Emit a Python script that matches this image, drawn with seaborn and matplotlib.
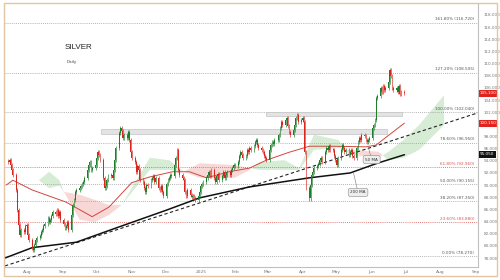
import numpy as np
import pandas as pd
import matplotlib
matplotlib.use("Agg")
import matplotlib.pyplot as plt
import matplotlib.dates as mdates
import matplotlib.transforms as mtrans
from matplotlib.patches import Rectangle
import seaborn as sns

# ---------------- data ----------------
start_day = "2024-07-15"
first_open = 94.0
closes = [
    93.8, 94.1, 93.3, 92.5, 91.7,
    89.2, 85.9, 83.4, 81.8, 82.6,
    82.3, 83.3, 83.4, 81.8, 81.0,
    79.7, 79.3, 80.1, 81.0, 81.3,
    81.6, 82.3, 82.6, 83.3, 83.6,
    84.6, 83.9, 84.3, 84.9, 85.6,
    85.2, 85.9, 84.9, 85.6, 84.3,
    83.6, 83.0, 83.3, 83.9, 82.6,
    85.1, 86.7, 87.6, 88.9, 89.2,
    89.5, 89.9, 90.2, 90.5, 91.2,
    92.5, 93.3, 93.8, 92.5, 92.8,
    93.3, 94.5, 95.5, 94.9, 94.1,
    91.2, 89.5, 89.9, 90.8, 91.5,
    91.7, 91.2, 92.5, 94.1, 96.1,
    98.6, 99.4, 98.9, 97.8, 98.3,
    97.8, 98.7, 97.4, 95.4, 94.5,
    93.8, 92.2, 93.1, 92.5, 90.8,
    90.5, 89.5, 88.9, 90.0, 89.9,
    90.8, 91.2, 91.5, 90.5, 91.2,
    89.5, 89.2, 89.9, 88.9, 88.2,
    90.2, 90.8, 91.2, 91.7, 91.5,
    93.3, 94.5, 95.8, 92.5, 91.7,
    91.2, 90.8, 88.9, 88.2, 89.2,
    88.4, 88.0, 88.2, 87.9, 87.6,
    88.2, 88.9, 89.9, 90.2, 90.5,
    91.2, 91.7, 92.2, 91.5, 92.5,
    91.2, 90.5, 91.5, 91.8, 90.8,
    91.5, 92.2, 91.2, 91.7, 92.2,
    91.7, 92.5, 92.8, 93.3, 93.1,
    93.8, 94.8, 95.5, 94.9, 94.5,
    94.8, 95.8, 95.5, 96.1, 95.8,
    96.4, 97.1, 97.4, 96.6, 96.1,
    95.8, 95.5, 94.8, 94.5, 94.1,
    95.8, 96.6, 97.1, 96.8, 97.4,
    97.4, 98.3, 99.4, 100.4, 99.9,
    100.7, 101.0, 99.7, 98.7, 98.3,
    99.1, 99.9, 101.0, 101.6, 100.4,
    100.7, 101.0, 100.4, 95.5, 89.5,
    87.8, 90.0, 91.7, 92.2, 92.8,
    93.1, 93.5, 94.1, 94.5, 93.8,
    95.5, 96.1, 95.8, 96.4, 95.8,
    95.8, 94.8, 94.1, 93.3, 94.5,
    95.8, 96.6, 96.1, 95.5, 95.8,
    94.9, 95.5, 95.8, 94.8, 94.5,
    96.1, 97.1, 97.8, 97.4, 98.3,
    98.1, 97.4, 97.1, 97.4, 97.8,
    99.4, 99.9, 100.7, 104.3, 104.7,
    106.0, 105.3, 106.3, 105.7, 106.0,
    107.0, 109.0, 108.0, 106.0, 105.7,
    106.0, 105.3, 106.3, 105.0, 105.3,
    105.2,
]

ma50_dates = ["2024-07-13", "2024-07-19", "2024-08-05", "2024-09-04", "2024-09-27",
              "2024-10-12", "2024-11-01", "2024-11-16", "2024-12-07", "2024-12-22",
              "2025-01-06", "2025-01-26", "2025-02-13", "2025-02-28", "2025-03-20",
              "2025-04-07", "2025-04-27", "2025-05-27", "2025-06-05", "2025-06-16",
              "2025-06-30"]
ma50_vals = [90.0, 90.8, 89.2, 87.2, 84.8, 86.4, 90.4, 91.3, 92.2, 92.2,
             91.2, 92.2, 92.8, 94.1, 95.4, 96.4, 96.4, 96.3, 96.6, 98.2, 100.2]

ma200_dates = ["2024-07-12", "2024-08-05", "2024-09-13", "2024-10-19", "2024-12-02",
               "2024-12-31", "2025-02-13", "2025-04-07", "2025-05-13", "2025-06-06",
               "2025-06-30"]
ma200_vals = [78.0, 79.7, 80.6, 83.0, 85.9, 87.9, 89.7, 91.2, 92.0, 93.6, 95.0]

cloud_dates = ["2024-08-11", "2024-08-20", "2024-08-29", "2024-09-02", "2024-09-16",
               "2024-09-29", "2024-10-12", "2024-10-23", "2024-11-17", "2024-12-04",
               "2024-12-17", "2024-12-31", "2025-01-31", "2025-02-13", "2025-02-22",
               "2025-03-16", "2025-03-29", "2025-04-11", "2025-05-03", "2025-05-12",
               "2025-06-07", "2025-06-16", "2025-06-29", "2025-07-13", "2025-08-04"]
span_a = [90.8, 92.2, 90.8, 88.9, 84.3, 83.9, 85.1, 86.7, 94.5, 94.1, 92.2, 91.2, 91.2,
          92.5, 93.8, 94.1, 92.8, 98.3, 97.4, 95.0, 94.5, 95.5, 97.4, 99.9, 104.8]
span_b = [90.8, 89.5, 89.9, 88.9, 88.4, 87.6, 86.7, 86.7, 92.5, 92.5, 92.2, 93.6, 93.3,
          92.8, 92.5, 92.5, 92.5, 95.8, 96.1, 95.8, 95.5, 94.1, 94.5, 95.8, 99.9]

trend_dates = ["2024-07-12", "2025-09-03"]
trend_vals = [76.7, 101.9]

fib_vals = [116.73, 108.51, 102.04, 96.95, 92.96, 90.155, 87.35, 83.88, 78.27]
fib_labels = ["161.80% (116.720)", "127.20% (108.505)", "100.00% (102.040)",
              "78.60% (96.950)", "61.80% (92.960)", "50.00% (90.155)",
              "38.20% (87.350)", "23.60% (83.880)", "0.00% (78.270)"]
fib_red = [False, False, False, False, True, False, False, True, False]

zones = [("2024-10-05", "2025-06-15", 98.4, 99.2),
         ("2025-02-28", "2025-06-28", 101.4, 102.0)]

price_tags = [(105.10, "105.100", "#e0231c"), (100.15, "100.150", "#e0231c"),
              (95.05, "95.050", "#111111")]

month_ticks = pd.date_range("2024-08-01", "2025-09-01", freq="MS")
month_labels = ["Aug", "Sep", "Oct", "Nov", "Dec", "2025", "Feb", "Mar", "Apr",
                "May", "Jun", "Jul", "Aug", "Sep"]
y_ticks = np.arange(78, 119, 2)

# ---------------- figure ----------------
sns.set_theme(style="white")
plt.rcParams["font.family"] = ["DejaVu Sans"]

fig = plt.figure(figsize=(5, 2.8), dpi=100)
ax = fig.add_axes([5 / 500, 13 / 280, 473 / 500, 263 / 280])

dates = pd.bdate_range(start_day, periods=len(closes))
xd = mdates.date2num(dates)
c = np.array(closes)
o = np.concatenate([[first_open], c[:-1]])
wick = 0.35
hi = np.maximum(o, c) + wick
lo = np.minimum(o, c) - wick
up = c >= o
green, red = "#1c7f2a", "#d8261f"
cols = np.where(up, green, red)

# ichimoku cloud
cx = mdates.date2num(pd.to_datetime(cloud_dates))
sa, sb = np.array(span_a), np.array(span_b)
ax.fill_between(cx, sa, sb, where=sa >= sb, interpolate=True, color="#d7ecd5",
                lw=0, zorder=1)
ax.fill_between(cx, sa, sb, where=sa < sb, interpolate=True, color="#f8d8d6",
                lw=0, zorder=1)

# fib lines and labels
blend = mtrans.blended_transform_factory(ax.transAxes, ax.transData)
for v, lab, isred in zip(fib_vals, fib_labels, fib_red):
    col = "#d9534f" if isred else "#9a9a9a"
    ax.axhline(v, color=col, ls=(0, (1, 1.5)), lw=0.6, zorder=1)
    ax.annotate(lab, (0.992, v), xycoords=blend, xytext=(0, 1),
                textcoords="offset points", ha="right", va="bottom",
                fontsize=3.0, color="#d9534f" if isred else "#555555")

# resistance zones
for d0, d1, y0, y1 in zones:
    x0, x1 = mdates.date2num(pd.Timestamp(d0)), mdates.date2num(pd.Timestamp(d1))
    ax.add_patch(Rectangle((x0, y0), x1 - x0, y1 - y0, facecolor="#e3e3e3",
                           edgecolor="#c4c4c4", lw=0.5, zorder=2))

# trendline
sns.lineplot(x=pd.to_datetime(trend_dates), y=trend_vals, ax=ax, color="#222222",
             lw=0.8, zorder=3)
ax.lines[-1].set_dashes((3, 2.2))

# moving averages
sns.lineplot(x=pd.to_datetime(ma50_dates), y=ma50_vals, ax=ax, color="#d0473f",
             lw=0.7, zorder=3)
sns.lineplot(x=pd.to_datetime(ma200_dates), y=ma200_vals, ax=ax, color="#111111",
             lw=1.1, zorder=3)

# candles
ax.vlines(xd, lo, hi, colors=cols, lw=0.45, zorder=4)
body = np.maximum(np.abs(c - o), 0.08)
ax.bar(xd, body, bottom=np.minimum(o, c), width=0.75, color=cols, lw=0, zorder=5)

# MA callouts
def callout(txt, xy_date, y_line, y_box, x_box_date):
    xb = mdates.date2num(pd.Timestamp(x_box_date))
    xl = mdates.date2num(pd.Timestamp(xy_date))
    ax.plot([xl, xb], [y_line, y_box], color="#777777", lw=0.4, zorder=6)
    ax.text(xb, y_box, txt, fontsize=3.0, ha="center", va="center", color="#333333",
            zorder=7, bbox=dict(boxstyle="round,pad=0.5", fc="#eeeeee", ec="#888888",
                                lw=0.4))

callout("50 MA", "2025-05-29", 96.3, 94.2, "2025-06-01")
callout("200 MA", "2025-05-16", 92.0, 88.8, "2025-05-20")

# title
ax.text(0.127, 0.835, "SILVER", transform=ax.transAxes, fontsize=5.8,
        color="#222222", va="center",
        family=["Liberation Sans Narrow", "Liberation Sans", "DejaVu Sans"])
ax.text(0.131, 0.78, "Daily", transform=ax.transAxes, fontsize=3.0,
        color="#444444", va="center")

# axes
ax.set_xlim(mdates.date2num(pd.Timestamp("2024-07-12")),
            mdates.date2num(pd.Timestamp("2025-09-03")))
ax.set_ylim(76.52, 119.81)
ax.set_xticks(mdates.date2num(month_ticks))
ax.set_xticklabels(month_labels)
ax.set_yticks(y_ticks)
# tick labels hidden behind the price tags are left blank
tag_vals = [p[0] for p in price_tags]
ax.set_yticklabels(["" if min(abs(t - tv) for tv in tag_vals) < 0.6 else f"{t:.3f}"
                    for t in y_ticks])
ax.yaxis.tick_right()
ax.tick_params(axis="y", length=0, labelsize=3.0, labelcolor="#777777", pad=4)
ax.tick_params(axis="x", length=0, labelsize=3.2, labelcolor="#777777", pad=2)
ax.set_xlabel("")
ax.set_ylabel("")
for s in ["top", "left"]:
    ax.spines[s].set_visible(False)
for s in ["right", "bottom"]:
    ax.spines[s].set_color("#c0c0c0")
    ax.spines[s].set_linewidth(0.8)
ax.grid(False)

for v, lab, col in price_tags:
    ax.text(1.004, v, lab, transform=blend, fontsize=3.0, color="white",
            ha="left", va="center", zorder=8,
            bbox=dict(boxstyle="square,pad=0.3", fc=col, ec="none"))

fig.patches.append(Rectangle((4 / 500, 4 / 280), 493 / 500, 273 / 280,
                             transform=fig.transFigure, fill=False,
                             edgecolor="#e2c6a3", lw=1.0))

fig.savefig("out.png", dpi=100)
